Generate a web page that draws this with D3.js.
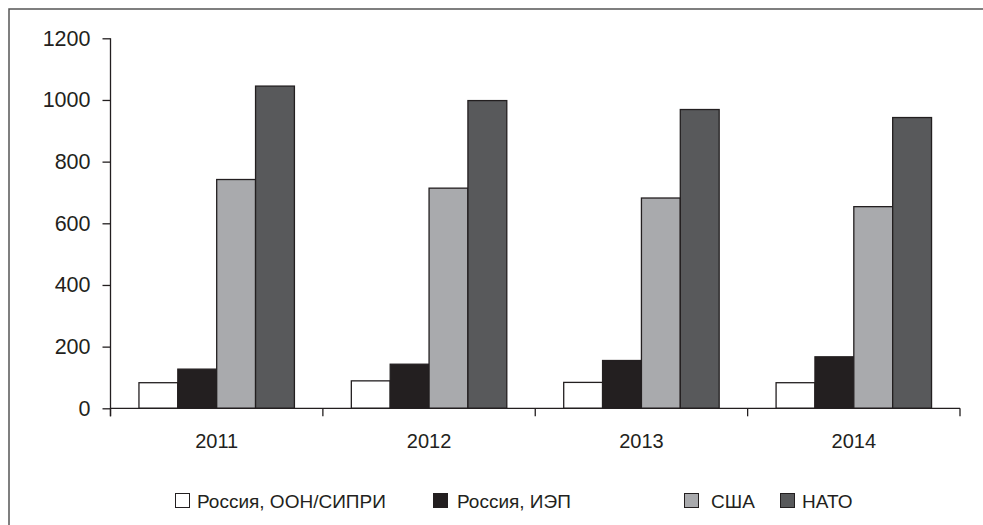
<!DOCTYPE html>
<html><head><meta charset="utf-8">
<script src="https://cdn.jsdelivr.net/npm/d3@7"></script>
<style>html,body{margin:0;padding:0;background:#fff;}svg{display:block;}</style>
</head><body>
<svg id="chart" width="983" height="525"></svg>
<script>
const years = ["2011", "2012", "2013", "2014"];
const seriesNames = ["Россия, ООН/СИПРИ", "Россия, ИЭП", "США", "НАТО"];
const russiaSipri = [83, 89, 84, 83];
const russiaIep = [127, 143, 155, 167];
const usa = [742, 714, 682, 654];
const nato = [1045, 998, 969, 943];
const yTicks = [0, 200, 400, 600, 800, 1000, 1200];
const colors = ["#ffffff", "#231f20", "#a9aaad", "#58595b"];

const seriesValues = [russiaSipri, russiaIep, usa, nato];
const svg = d3.select("#chart");
const font = "'Liberation Sans', Arial, sans-serif";

// outer frame
svg.append("rect").attr("x", 9).attr("y", 9).attr("width", 1000).attr("height", 1000)
  .attr("fill", "none").attr("stroke", "#555").attr("stroke-width", 1.5);

const left = 110.5, right = 960, y0 = 408.3, yTop = 38.3;
const x = d3.scaleBand().domain(years).range([left, right]).paddingInner(0).paddingOuter(0);
const bw = x.bandwidth();
const x1 = d3.scaleBand().domain(seriesNames).range([bw * 0.134, bw * 0.866]).padding(0);
const y = d3.scaleLinear().domain([0, 1200]).range([y0, yTop]);

// bars
years.forEach((yr, i) => {
  const g = svg.append("g").attr("transform", `translate(${x(yr)},0)`);
  seriesNames.forEach((s, j) => {
    const v = seriesValues[j][i];
    g.append("rect")
      .attr("x", x1(s)).attr("y", y(v))
      .attr("width", x1.bandwidth()).attr("height", y0 - y(v))
      .attr("fill", colors[j]).attr("stroke", "#231f20").attr("stroke-width", 1.3);
  });
});

// y axis
const yAxis = d3.axisLeft(y).tickValues(yTicks).tickFormat(d3.format("d"))
  .tickSize(8).tickPadding(12).tickSizeOuter(0);
const gy = svg.append("g").attr("transform", `translate(${left},0)`).call(yAxis);
gy.select(".domain").attr("stroke", "#231f20").attr("stroke-width", 1.3).attr("d", `M0,${yTop}V${y0 + 8}`);
gy.selectAll(".tick line").attr("stroke", "#231f20").attr("stroke-width", 1.3);
gy.selectAll("text").attr("font-family", font).attr("font-size", 21.5).attr("fill", "#231f20");

// x axis
const gx = svg.append("g").attr("transform", `translate(0,${y0})`);
gx.append("line").attr("x1", left).attr("x2", right).attr("y1", 0).attr("y2", 0)
  .attr("stroke", "#231f20").attr("stroke-width", 1.3);
const bounds = years.map(yr => x(yr)).concat([x(years[years.length - 1]) + bw]);
gx.selectAll("line.tk").data(bounds).enter().append("line").attr("class", "tk")
  .attr("x1", d => d).attr("x2", d => d).attr("y1", 0).attr("y2", 8)
  .attr("stroke", "#231f20").attr("stroke-width", 1.3);
gx.selectAll("text").data(years).enter().append("text")
  .attr("x", d => x(d) + bw / 2).attr("y", 40)
  .attr("text-anchor", "middle").attr("font-family", font).attr("font-size", 20)
  .attr("fill", "#231f20").text(d => d);

// legend
const legendX = [175, 433, 684, 780];
const legendTextX = [197, 457, 711, 802];
const lg = svg.append("g");
seriesNames.forEach((s, j) => {
  lg.append("rect").attr("x", legendX[j] + 0.5).attr("y", 493.5).attr("width", 14).attr("height", 14)
    .attr("fill", colors[j]).attr("stroke", "#231f20").attr("stroke-width", 1);
  lg.append("text").attr("x", legendTextX[j]).attr("y", 507.5)
    .attr("font-family", font).attr("font-size", 19).attr("fill", "#231f20").text(s);
});
</script>
</body></html>
